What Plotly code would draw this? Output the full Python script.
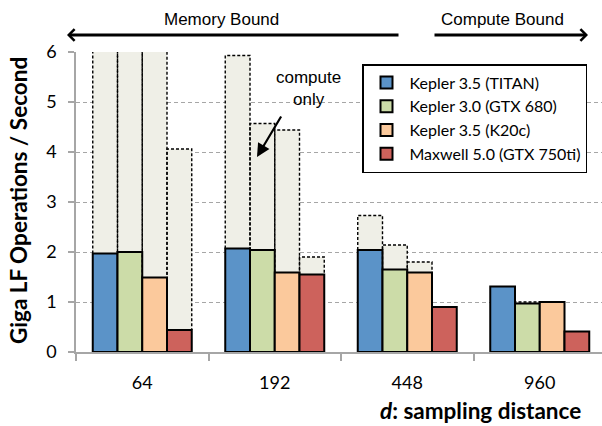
import plotly.graph_objects as go

categories = ["64", "192", "448", "960"]
series_names = ["Kepler 3.5 (TITAN)", "Kepler 3.0 (GTX 680)", "Kepler 3.5 (K20c)", "Maxwell 5.0 (GTX 750ti)"]
colors = ["#5B93C8", "#CCDCA8", "#FBC99C", "#CD625C"]

# measured throughput (solid bars)
titan = [1.97, 2.07, 2.04, 1.31]
gtx680 = [2.00, 2.04, 1.65, 0.97]
k20c = [1.49, 1.59, 1.59, 1.00]
maxwell = [0.44, 1.55, 0.90, 0.41]

# compute-only throughput (dashed bars); None = not above measured bar
titan_c = [6.8, 5.93, 2.73, None]
gtx680_c = [6.8, 4.57, 2.14, 1.00]
k20c_c = [6.8, 4.44, 1.80, None]
maxwell_c = [4.06, 1.90, None, None]

solid = [titan, gtx680, k20c, maxwell]
comp = [titan_c, gtx680_c, k20c_c, maxwell_c]

W, H = 602, 426
ML, MT, MB = 76, 52, 74
PW, PH = W - ML, H - MT - MB
cat_px = 132.5
bw = 24.75 / cat_px

def px(x):
    return (x - ML) / PW

def py(y):
    return (H - MB - y) / PH

fig = go.Figure()

# compute-only fill bars
for j in range(4):
    xs, ys = [], []
    for i in range(4):
        c = comp[j][i]
        if c is not None and c > solid[j][i]:
            xs.append(i + (j - 1.5) * bw)
            ys.append(c)
    fig.add_trace(go.Bar(x=xs, y=ys, width=bw, marker=dict(color="#EFEFE7", line=dict(width=0)),
                         showlegend=False, hoverinfo="skip"))

# dashed outlines of compute-only bars
ox, oy = [], []
for j in range(4):
    for i in range(4):
        c = comp[j][i]
        s = solid[j][i]
        if c is not None and c > s:
            x0 = i + (j - 1.5) * bw - bw / 2
            x1 = x0 + bw
            ox += [x0, x0, x1, x1, None]
            oy += [s, c, c, s, None]
fig.add_trace(go.Scatter(x=ox, y=oy, mode="lines", line=dict(color="black", width=1.4, dash="3px,2px"),
                         showlegend=False, hoverinfo="skip"))

# measured bars
for j in range(4):
    fig.add_trace(go.Bar(x=[i + (j - 1.5) * bw for i in range(4)], y=solid[j], width=bw, name=series_names[j],
                         marker=dict(color=colors[j], line=dict(color="black", width=2))))

grid = "#A6A6A6"
fig.update_layout(
    width=W, height=H, margin=dict(l=ML, r=0, t=MT, b=MB),
    paper_bgcolor="white", plot_bgcolor="white",
    barmode="overlay",
    font=dict(family="Lato, sans-serif", color="black"),
    xaxis=dict(range=[-0.5, -0.5 + PW / cat_px], tickmode="array", tickvals=list(range(4)), ticktext=categories,
               ticks="", showgrid=False, zeroline=False, showline=True, linecolor=grid, linewidth=1.5,
               tickfont=dict(size=18, family="Lato"), ticklabelstandoff=14,
               minor=dict(tickmode="array", tickvals=[-0.5, 0.5, 1.5, 2.5], ticks="outside", ticklen=7,
                          tickcolor=grid, tickwidth=1.5, showgrid=False)),
    yaxis=dict(range=[0, 6], tickvals=[0, 1, 2, 3, 4, 5, 6], ticks="outside", ticklen=6, tickcolor=grid,
               tickwidth=1.5, showline=True, linecolor=grid, linewidth=1.5, zeroline=False,
               showgrid=True, gridcolor=grid, griddash="4px,3px", gridwidth=1.3,
               tickfont=dict(size=18, family="Lato"), ticklabelstandoff=8),
    legend=dict(x=px(362), y=py(64), xanchor="left", yanchor="top", bgcolor="white",
                bordercolor="black", borderwidth=1.5, font=dict(size=16, family="Lato"),
                itemwidth=36, traceorder="normal"),
    showlegend=True,
)

ann = []
ann.append(dict(text="<b>Giga LF Operations / Second</b>", xref="paper", yref="paper", x=px(18), y=py(201),
                xanchor="center", yanchor="middle",
                textangle=-90, showarrow=False, font=dict(size=22.5, family="Lato")))
ann.append(dict(text="<b><i>d</i>: sampling distance</b>", xref="paper", yref="paper", x=px(583), y=py(410),
                xanchor="right", yanchor="middle", showarrow=False, font=dict(size=22.5, family="Lato")))
ann.append(dict(text="Memory Bound", xref="paper", yref="paper", x=px(221), y=py(20), showarrow=False,
                xanchor="center", yanchor="middle", font=dict(size=17, family="Liberation Sans")))
ann.append(dict(text="Compute Bound", xref="paper", yref="paper", x=px(502), y=py(20), showarrow=False,
                xanchor="center", yanchor="middle", font=dict(size=17, family="Liberation Sans")))
ann.append(dict(text="", xref="paper", yref="paper", x=px(67), y=py(35), ax=400 - 67, ay=0,
                showarrow=True, arrowhead=4, arrowwidth=2.8, arrowsize=0.8, arrowcolor="black"))
ann.append(dict(text="", xref="paper", yref="paper", x=px(588), y=py(35), ax=433 - 588, ay=0,
                showarrow=True, arrowhead=4, arrowwidth=2.8, arrowsize=0.8, arrowcolor="black"))
ann.append(dict(text="compute<br>only", xref="paper", yref="paper", x=px(308), y=py(89), showarrow=False,
                xanchor="center", yanchor="middle", font=dict(size=17, family="Liberation Sans")))
ann.append(dict(text="", xref="paper", yref="paper", x=px(257), y=py(157), ax=282 - 257, ay=115 - 157,
                showarrow=True, arrowhead=2, arrowwidth=2.2, arrowsize=1.2, arrowcolor="black"))
fig.update_layout(annotations=ann)

fig.write_html("out.html", config={"displayModeBar": False},
               post_script="document.body.style.margin='0px';document.body.style.overflow='hidden';")
